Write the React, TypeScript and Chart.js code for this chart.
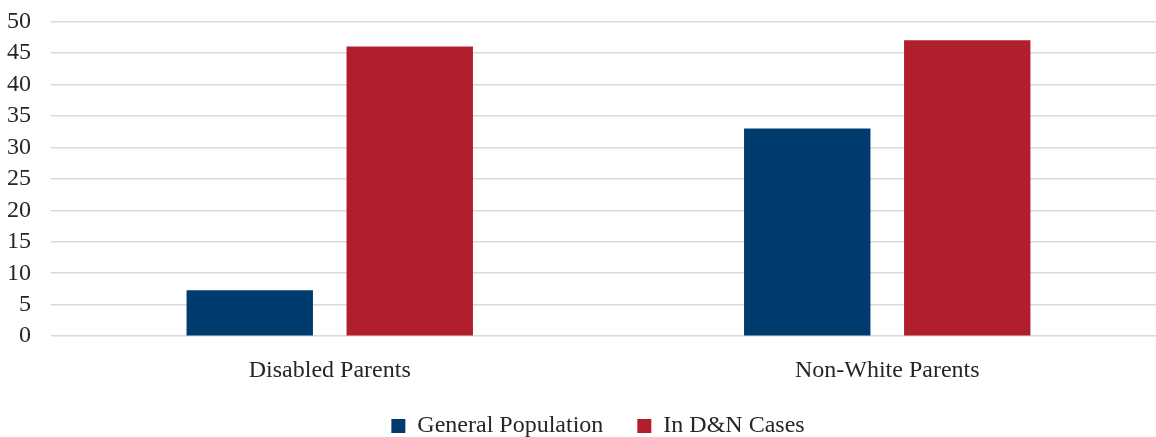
import React, { useEffect, useRef } from "react";
import { Chart, registerables } from "chart.js";

Chart.register(...registerables);

const categories = ["Disabled Parents", "Non-White Parents"];
const generalPopulation = [7.3, 33];
const inDNCases = [46, 47];
const seriesNames = ["General Population", "In D&N Cases"];
const seriesColors = ["#003B6F", "#B01F2B"];

const FONT = "'Liberation Serif', 'Times New Roman', serif";
const FONT_SIZE = 24;
const LEGEND_SHIFT = 15;

// nudges the legend row a little to the right of the canvas centre
const legendOffset = {
  id: "legendOffset",
  afterLayout(chart: any) {
    if (chart.legend) {
      chart.legend.left += LEGEND_SHIFT;
      chart.legend.right += LEGEND_SHIFT;
    }
  },
};

export default function App() {
  const canvasRef = useRef<HTMLCanvasElement | null>(null);

  useEffect(() => {
    if (!canvasRef.current) return;
    const chart = new Chart(canvasRef.current, {
      type: "bar",
      data: {
        labels: categories,
        datasets: [
          {
            label: seriesNames[0],
            data: generalPopulation,
            backgroundColor: seriesColors[0],
            categoryPercentage: 0.574,
            barPercentage: 0.79,
          },
          {
            label: seriesNames[1],
            data: inDNCases,
            backgroundColor: seriesColors[1],
            categoryPercentage: 0.574,
            barPercentage: 0.79,
          },
        ],
      },
      options: {
        animation: false,
        responsive: false,
        maintainAspectRatio: false,
        layout: { padding: { left: 0, top: 0, right: 0, bottom: 0 } },
        scales: {
          x: {
            grid: { display: false, drawTicks: false },
            border: { display: false },
            ticks: {
              color: "#262626",
              padding: 20,
              font: { family: FONT, size: FONT_SIZE },
            },
            afterFit: (scale: any) => {
              scale.height -= 25;
            },
          },
          y: {
            min: 0,
            max: 50,
            grid: { color: "#d9d9d9", lineWidth: 1.5, drawTicks: false },
            border: { display: false },
            ticks: {
              stepSize: 5,
              autoSkip: false,
              color: "#262626",
              padding: 20,
              font: { family: FONT, size: FONT_SIZE },
            },
            afterFit: (scale: any) => {
              scale.width = 51;
            },
          },
        },
        plugins: {
          legend: {
            position: "bottom",
            labels: {
              boxWidth: 14,
              boxHeight: 14,
              padding: 34,
              color: "#262626",
              font: { family: FONT, size: FONT_SIZE },
            },
          },
          tooltip: { enabled: false },
        },
      },
      plugins: [legendOffset],
    });
    return () => chart.destroy();
  }, []);

  return (
    <div
      style={{
        position: "fixed",
        left: 0,
        top: 0,
        width: 1156,
        height: 437,
        overflow: "hidden",
        background: "#fff",
      }}
    >
      <canvas
        ref={canvasRef}
        width={1166}
        height={461}
        style={{ display: "block", position: "absolute", left: 0, top: -13 }}
      />
    </div>
  );
}
